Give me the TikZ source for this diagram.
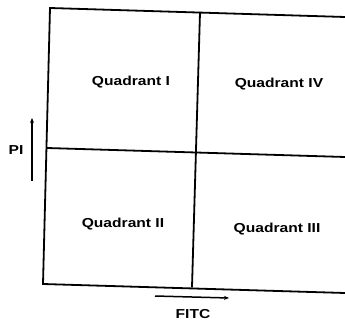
\documentclass[tikz,border=0pt]{standalone}
\usepackage{fontspec}
\setmainfont{Liberation Sans}
\newfontfamily\labfont[FakeStretch=1.2]{Liberation Sans}
\usetikzlibrary{arrows.meta}
\begin{document}
\begin{tikzpicture}[x=1pt,y=-1pt,
  frame/.style={line width=1.8pt,line cap=round},
  axisarrow/.style={line width=1.5pt,-{Stealth[length=5pt,width=4pt]}},
  lab/.style={font=\labfont\bfseries\fontsize{13}{15}\selectfont,inner sep=0pt}]
\useasboundingbox (0,0) rectangle (345,320);
\coordinate (tl) at (50,8);
\coordinate (tr) at (345,17);
\coordinate (bl) at (43,284);
\coordinate (br) at (345,293);
\coordinate (mt) at (200,12.5);
\coordinate (mb) at (192,287);
\coordinate (ml) at (47,148);
\coordinate (mr) at (345,157);
\draw[frame] (tr) -- (tl) -- (bl) -- (br);
\draw[frame] (mt) -- (mb);
\draw[frame] (ml) -- (mr);
\node[lab] (q1) at (131,82) {Quadrant I};
\node[lab] (q4) at (279,84) {Quadrant IV};
\node[lab] (q2) at (123,224) {Quadrant II};
\node[lab] (q3) at (277,229) {Quadrant III};
\coordinate (pia) at (32,181);
\coordinate (pib) at (32,118);
\draw[axisarrow] (pia) -- (pib);
\node[lab] (pi) at (16,150) {PI};
\coordinate (fa) at (155,296);
\coordinate (fb) at (229,298);
\draw[axisarrow] (fa) -- (fb);
\node[lab] (fitc) at (193,314) {FITC};
\end{tikzpicture}
\end{document}
